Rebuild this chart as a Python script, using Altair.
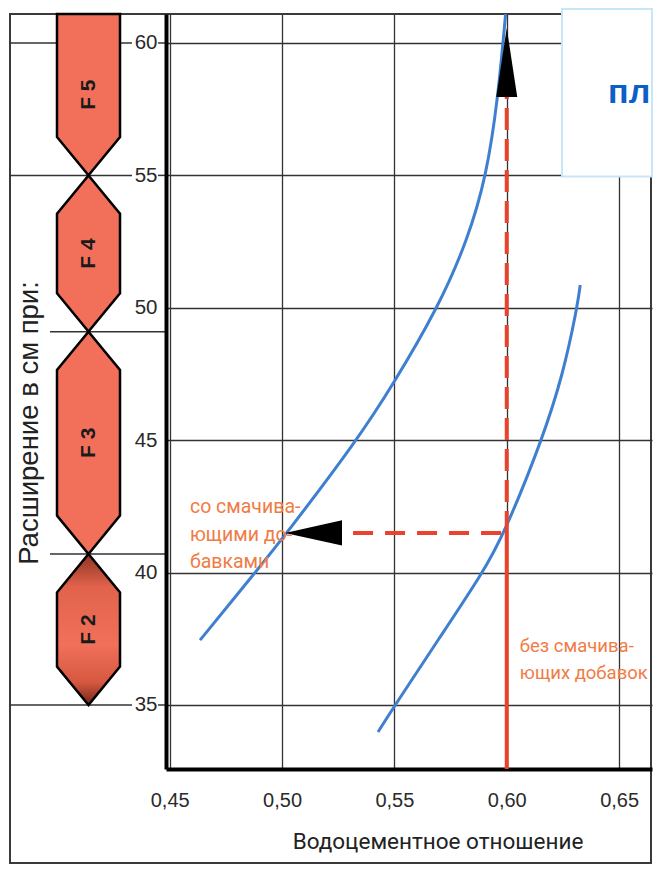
import altair as alt
import pandas as pd

# ---------------- data ----------------
y_ticks = [35, 40, 45, 50, 55, 60]
x_ticks = [0.45, 0.50, 0.55, 0.60, 0.65]

# curve "со смачивающими добавками" (with wetting additives)
with_add_x = [0.4635, 0.4880, 0.5022, 0.5334, 0.5494, 0.5694, 0.5826, 0.5910, 0.5960, 0.5995]
with_add_y = [37.45, 40.0, 41.5, 45.0, 47.1, 50.0, 52.56, 55.0, 57.85, 61.1]

# curve "без смачивающих добавок" (without wetting additives)
without_add_x = [0.5427, 0.5503, 0.5698, 0.5894, 0.5990, 0.6157, 0.6251, 0.6313, 0.6327]
without_add_y = [33.98, 35.0, 37.5, 40.0, 41.5, 45.0, 47.5, 50.0, 50.86]

# consistency classes strip
flow_classes = ["F 2", "F 3", "F 4", "F 5"]
class_lo = [35.0, 40.7, 49.1, 55.0]
class_hi = [40.7, 49.1, 55.0, 62.0]

# reading example
wc_ratio = 0.60
flow_with = 41.5
flow_read_top = 57.96

label_with = ["со смачива-", "ющими до-", "бавками"]
label_without = ["без смачива-", "ющих добавок"]
x_title = "Водоцементное отношение"
y_title = "Расширение в см при:"
box_title = "пл"

# ---------------- styles ----------------
SANS = "Liberation Sans, Arial, Helvetica, sans-serif"
NARROW = "Roboto, Liberation Sans, sans-serif"
BLUE = "#3f7fcf"
RED = "#e8432d"
ORANGE = "#f07c45"
HEX = "#f2705a"
GRID = "#333333"

X_MIN, X_MAX = 0.44835, 0.66464
Y_MIN, Y_MAX = 32.583, 61.095
W_RIGHT, H = 486, 755
W_LEFT = 158

xs = alt.Scale(domain=[X_MIN, X_MAX], nice=False, zero=False)
ys = alt.Scale(domain=[Y_MIN, Y_MAX], nice=False, zero=False)
ps = alt.Scale(domain=[0, W_LEFT], nice=False, zero=False)  # strip panel

# ---------------- right panel: the diagram ----------------
curves = pd.concat([
    pd.DataFrame({"series": "with", "x": with_add_x, "y": with_add_y}),
    pd.DataFrame({"series": "without", "x": without_add_x, "y": without_add_y}),
])

xaxis = alt.Axis(values=x_ticks, grid=True, ticks=False, labelPadding=21,
                 labelExpr="replace(format(datum.value, '.2f'), '.', ',')",
                 labelFont=SANS, labelFontSize=20, labelColor="#2a2a2a",
                 domainColor="black", domainWidth=4, gridColor=GRID, gridWidth=1.3,
                 title=x_title, titleFont=NARROW, titleFontSize=22.5,
                 titleFontWeight="normal", titleColor="#222222",
                 titleX=271.5, titleY=79, titleBaseline="alphabetic", titleAlign="center")
yaxis = alt.Axis(values=y_ticks, grid=True, ticks=False, labelPadding=9,
                 labelFont=SANS, labelFontSize=20.5, labelColor="#2a2a2a",
                 domainColor="black", domainWidth=4, gridColor=GRID, gridWidth=1.3,
                 title=None)

lines = alt.Chart(curves).mark_line(color=BLUE, strokeWidth=3, interpolate="basis", clip=True).encode(
    x=alt.X("x:Q", scale=xs, axis=xaxis),
    y=alt.Y("y:Q", scale=ys, axis=yaxis),
    detail="series:N",
    order="x:Q",
)

red_solid = alt.Chart(pd.DataFrame({"x": [wc_ratio], "y": [Y_MIN], "y2": [flow_with]})).mark_rule(
    color=RED, strokeWidth=4).encode(x=alt.X("x:Q", scale=xs), y=alt.Y("y:Q", scale=ys), y2="y2:Q")

red_dash_v = alt.Chart(pd.DataFrame({"x": [wc_ratio], "y": [flow_with], "y2": [flow_read_top]})).mark_rule(
    color=RED, strokeWidth=4, strokeDash=[22, 9]).encode(
    x=alt.X("x:Q", scale=xs), y=alt.Y("y:Q", scale=ys), y2="y2:Q")

red_dash_h = alt.Chart(pd.DataFrame({"x": [0.5316], "x2": [wc_ratio], "y": [flow_with]})).mark_rule(
    color=RED, strokeWidth=4, strokeDash=[20, 12]).encode(
    x=alt.X("x:Q", scale=xs), x2="x2:Q", y=alt.Y("y:Q", scale=ys))

arrow_up = alt.Chart(pd.DataFrame({"x": [wc_ratio], "y": [59.26]})).mark_point(
    shape="M 0 -1 L 0.304 1 L -0.304 1 Z", filled=True, color="black", opacity=1, size=4761).encode(
    x=alt.X("x:Q", scale=xs), y=alt.Y("y:Q", scale=ys))

arrow_left = alt.Chart(pd.DataFrame({"x": [0.5140], "y": [flow_with]})).mark_point(
    shape="M -1 0 L 1 -0.44 L 1 0.44 Z", filled=True, color="black", opacity=1, size=3249).encode(
    x=alt.X("x:Q", scale=xs), y=alt.Y("y:Q", scale=ys))

labels = pd.DataFrame({
    "x": [0.4590, 0.6058],
    "y": [42.46, 37.23],
    "t": ["\n".join(label_with), "\n".join(label_without)],
    "fs": [19.5, 18.5],
})
label_text = alt.Chart(labels).mark_text(
    font=NARROW, color=ORANGE, align="left", baseline="middle",
    lineBreak="\n", lineHeight=27.5).encode(
    x=alt.X("x:Q", scale=xs), y=alt.Y("y:Q", scale=ys), text="t:N",
    size=alt.Size("fs:Q", scale=None, legend=None))

box = alt.Chart(pd.DataFrame({"x": [0.6246], "x2": [X_MAX], "y": [54.96]})).mark_rect(
    fill="white", stroke="#c8e6fa", strokeWidth=2).encode(
    x=alt.X("x:Q", scale=xs), x2="x2:Q", y=alt.Y("y:Q", scale=ys), y2=alt.value(-5))

box_text = alt.Chart(pd.DataFrame({"x": [0.6451], "y": [57.73], "t": [box_title]})).mark_text(
    font=SANS, fontSize=34, fontWeight="bold", color="#0b5fc8", align="left",
    baseline="alphabetic").encode(
    x=alt.X("x:Q", scale=xs), y=alt.Y("y:Q", scale=ys), text="t:N")

right = alt.layer(lines, red_solid, red_dash_v, red_dash_h, arrow_up, arrow_left,
                  label_text, box, box_text).properties(width=W_RIGHT, height=H)

# ---------------- left panel: consistency class strip ----------------
C, HW, TAPER = 80.5, 31.5, 1.45
hex_rows = []
for cls, lo, hi in zip(flow_classes, class_lo, class_hi):
    if hi > Y_MAX:
        tops = [Y_MAX, Y_MAX, Y_MAX]
    else:
        tops = [hi - TAPER, hi, hi - TAPER]
    bots = [lo + TAPER, lo, lo + TAPER]
    for xv, b, t in zip([C - HW, C, C + HW], bots, tops):
        hex_rows.append({"cls": cls, "x": xv, "y": b, "y2": t})
hex_df = pd.DataFrame(hex_rows)

hex_plain = alt.Chart(hex_df[hex_df.cls != "F 2"]).mark_area(
    fill=HEX, stroke="black", strokeWidth=2.5, orient="vertical").encode(
    x=alt.X("x:Q", scale=ps, axis=None), y=alt.Y("y:Q", scale=ys, axis=None), y2="y2:Q",
    detail="cls:N")

grad = alt.Gradient(gradient="linear", x1=0, x2=0, y1=0, y2=1, stops=[
    alt.GradientStop(color="#8e3424", offset=0.0),
    alt.GradientStop(color="#e2634b", offset=0.22),
    alt.GradientStop(color="#f0705a", offset=0.6),
    alt.GradientStop(color="#d65840", offset=0.85),
    alt.GradientStop(color="#6e2618", offset=1.0),
])
hex_f2 = alt.Chart(hex_df[hex_df.cls == "F 2"]).mark_area(
    fill=grad, stroke="black", strokeWidth=2.5, orient="vertical").encode(
    x=alt.X("x:Q", scale=ps, axis=None), y=alt.Y("y:Q", scale=ys, axis=None), y2="y2:Q")

mids = [(lo + min(hi, Y_MAX)) / 2 for lo, hi in zip(class_lo, class_hi)]
cls_text = alt.Chart(pd.DataFrame({"t": flow_classes, "y": mids, "x": [C] * 4})).mark_text(
    font=SANS, fontSize=21, fontWeight="bold", color="#1a1a1a", angle=270,
    align="center", baseline="middle").encode(
    x=alt.X("x:Q", scale=ps, axis=None), y=alt.Y("y:Q", scale=ys, axis=None), text="t:N")

seg = []
for v in [60, 55, 35]:
    seg += [{"y": v, "x0": 2, "x1": 124}, {"y": v, "x0": 150, "x1": 158}]
for v in [class_lo[1], class_lo[2]]:
    seg += [{"y": v, "x0": 42, "x1": 158}]
seg_rules = alt.Chart(pd.DataFrame(seg)).mark_rule(color=GRID, strokeWidth=1.5).encode(
    x=alt.X("x0:Q", scale=ps, axis=None), x2="x1:Q", y=alt.Y("y:Q", scale=ys, axis=None))

frame = alt.Chart(pd.DataFrame({"k": [0]})).mark_rect(
    filled=False, stroke="#3a3a3a", strokeWidth=2).encode(
    x=alt.value(2), x2=alt.value(643), y=alt.value(0), y2=alt.value(849))

ytitle = alt.Chart(pd.DataFrame({"t": [y_title], "y": [45.65], "x": [30]})).mark_text(
    font=SANS, fontSize=27.5, color="#222222", angle=270, align="center",
    baseline="alphabetic").encode(
    x=alt.X("x:Q", scale=ps, axis=None), y=alt.Y("y:Q", scale=ys, axis=None), text="t:N")

left = alt.layer(frame, seg_rules, hex_plain, hex_f2, cls_text, ytitle).properties(
    width=W_LEFT, height=H)

chart = alt.hconcat(left, right, spacing=0, bounds="flush").properties(
    padding={"left": 0, "top": 0, "right": 0, "bottom": 0}
).configure_view(stroke=None)

chart.save("out.html", embed_options={"renderer": "svg", "actions": False})
